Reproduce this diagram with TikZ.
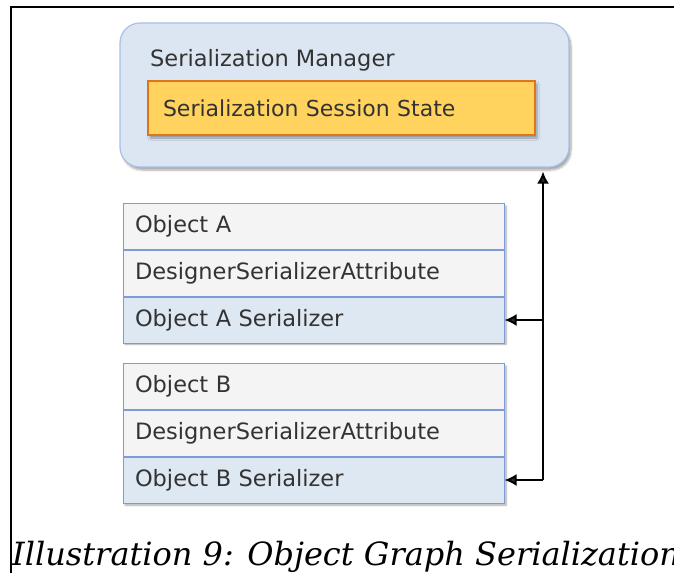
\documentclass[tikz,border=0pt]{standalone}
\usepackage{fontspec}
\setmainfont{DejaVu Serif}
\setsansfont{DejaVu Sans}
\usepackage{tikz}
\usetikzlibrary{positioning,arrows.meta,shadows.blur}
\definecolor{mgrfill}{HTML}{DCE6F2}
\definecolor{mgrline}{HTML}{A9C0E4}
\definecolor{statefill}{HTML}{FFD35E}
\definecolor{stateline}{HTML}{E0741C}
\definecolor{rowfill}{HTML}{F4F4F4}
\definecolor{serfill}{HTML}{DDE8F3}
\definecolor{rowline}{HTML}{7E9CD4}
\definecolor{txt}{HTML}{333333}
\tikzset{
	shd/.style={blur shadow={shadow xshift=2pt,shadow yshift=-3pt,shadow blur steps=6,shadow opacity=35}},
	mgr/.style={draw=mgrline,line width=1.2pt,fill=mgrfill,rounded corners=20pt,minimum width=449pt,minimum height=144pt,shd},
	state/.style={draw=stateline,line width=1.2pt,fill=statefill,minimum width=387pt,minimum height=54pt,inner xsep=15pt,text width=357pt,align=left,font=\sffamily\fontsize{22}{26}\selectfont,text=txt,shd},
	row/.style={draw=rowline,line width=1pt,fill=rowfill,minimum height=46pt,inner xsep=12pt,text width=357pt,align=left,font=\sffamily\fontsize{22.5}{26}\selectfont,text=txt},
	serrow/.style={row,fill=serfill},
	arr/.style={line width=2pt,-{Latex[length=12pt,width=12pt]}}
}

\begin{document}
\begin{tikzpicture}[x=1pt,y=-1pt]
	\useasboundingbox (0,0) rectangle (674,573);
	\draw [line width=2pt] (10.5,573) -- (10.5,7) -- (674,7);

	\node [mgr] (mgr) at (344.5,95) {};
	\node [anchor=base west,inner sep=0pt,font=\sffamily\fontsize{22.5}{26}\selectfont,text=txt] (mgrtitle) at (150,66) {Serialization Manager};
	\node [state] (state) at (341.5,108) {Serialization Session State};

	\path [shd,fill=white] (123,203) rectangle (504,341);
	\node [row] (objA) at (313.5,226) {Object A};
	\node [row,below=0pt of objA] (attrA) {DesignerSerializerAttribute};
	\node [serrow,below=0pt of attrA] (serA) {Object A Serializer};

	\path [shd,fill=white] (123,363) rectangle (504,502);
	\node [row] (objB) at (313.5,386) {Object B};
	\node [row,below=0pt of objB] (attrB) {DesignerSerializerAttribute};
	\node [serrow,below=0pt of attrB] (serB) {Object B Serializer};

	\coordinate (bus) at (543,0);
	\coordinate (top) at (bus |- mgr.south);
	\draw [arr,shorten >=4pt] (serB.east -| bus) -- (top);
	\draw [arr,{Latex[length=12pt,width=12pt]}-] (serB.east) -- (serB.east -| bus);
	\draw [arr] (serA.east -| bus) -- (serA.east);

	\node [anchor=base west,inner sep=0pt,font=\itshape\fontsize{32}{36}\selectfont] (caption) at (12,565) {Illustration 9: Object Graph Serialization};
\end{tikzpicture}
\end{document}
